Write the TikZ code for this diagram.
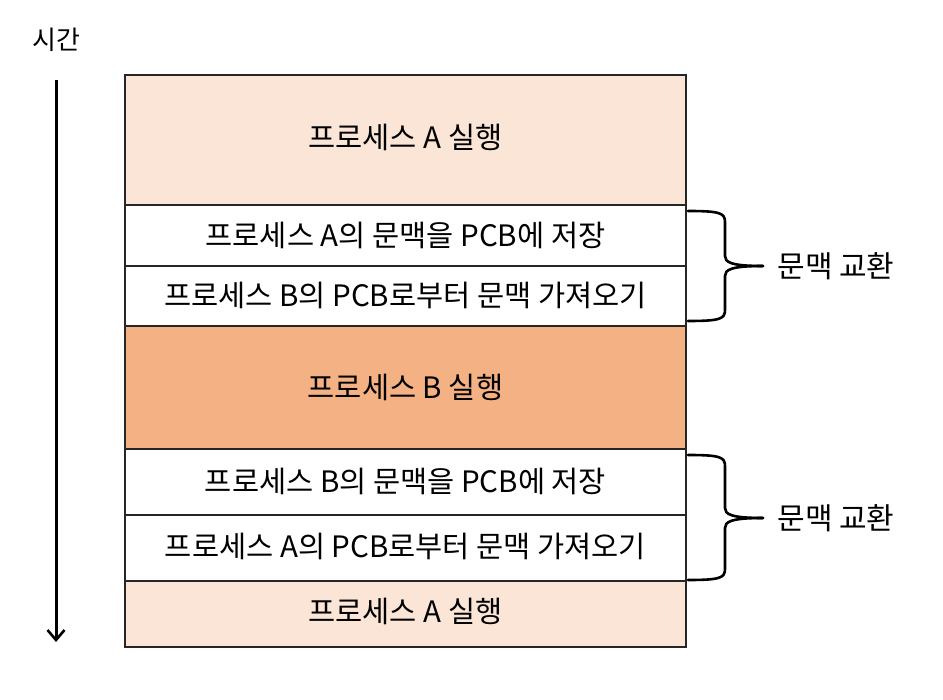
\documentclass[tikz,border=0pt]{standalone}
\usepackage{fontspec}
\setmainfont{Noto Sans CJK KR}
\usetikzlibrary{arrows.meta}
\definecolor{lightpeach}{HTML}{FBE5D6}
\definecolor{peach}{HTML}{F4B183}
\begin{document}
\begin{tikzpicture}[x=1pt,y=-1pt,
  rowbox/.style={draw=black!85,line width=2pt},
  lbl/.style={font=\fontsize{29.5}{34}\selectfont,inner sep=0pt},
  side/.style={font=\fontsize{30}{34}\selectfont,inner sep=0pt},
  tlbl/.style={font=\fontsize{26}{30}\selectfont,inner sep=0pt},
  bracepath/.style={line width=2.6pt,line cap=round,line join=round}]
\useasboundingbox (0,0) rectangle (943,700);
% rows
\fill[lightpeach] (125,75) rectangle (686,205);
\fill[peach] (125,326) rectangle (686,449);
\fill[lightpeach] (125,581) rectangle (686,647);
\draw[rowbox] (125,75) rectangle (686,647);
\foreach \yy in {205,266,326,449,515,581} \draw[rowbox] (125,\yy) -- (686,\yy);
% labels
\node[lbl] (r1) at (405.5,137) {프로세스 A 실행};
\node[lbl] (r2) at (405.5,235) {프로세스 A의 문맥을 PCB에 저장};
\node[lbl] (r3) at (405.5,295) {프로세스 B의 PCB로부터 문맥 가져오기};
\node[lbl] (r4) at (405.5,387) {프로세스 B 실행};
\node[lbl] (r5) at (405.5,481) {프로세스 B의 문맥을 PCB에 저장};
\node[lbl] (r6) at (405.5,546) {프로세스 A의 PCB로부터 문맥 가져오기};
\node[lbl] (r7) at (405.5,611) {프로세스 A 실행};
% time arrow
\node[tlbl] (time) at (56,40) {시간};
\coordinate (ta) at (56,80);
\coordinate (tb) at (56,642);
\draw[line width=3pt,-{Straight Barb[length=10pt,width=17pt,line width=2.6pt]}] (ta) -- (tb);
% braces
\coordinate (b1t) at (688,211);
\coordinate (b1m) at (763,266);
\coordinate (b1b) at (688,321);
\draw[bracepath] (b1t) .. controls (720,211) and (725,213) .. (725,222) -- (725,256) .. controls (725,262) and (730,266) .. (b1m);
\draw[bracepath] (b1m) .. controls (730,266) and (725,270) .. (725,276) -- (725,310) .. controls (725,319) and (720,321) .. (b1b);
\node[side] (cs1) at (836,266) {문맥 교환};
\coordinate (b2t) at (688,455);
\coordinate (b2m) at (763,518);
\coordinate (b2b) at (688,580);
\draw[bracepath] (b2t) .. controls (720,455) and (725,457) .. (725,466) -- (725,508) .. controls (725,514) and (730,518) .. (b2m);
\draw[bracepath] (b2m) .. controls (730,518) and (725,522) .. (725,528) -- (725,569) .. controls (725,578) and (720,580) .. (b2b);
\node[side] (cs2) at (836,518) {문맥 교환};
\end{tikzpicture}
\end{document}
